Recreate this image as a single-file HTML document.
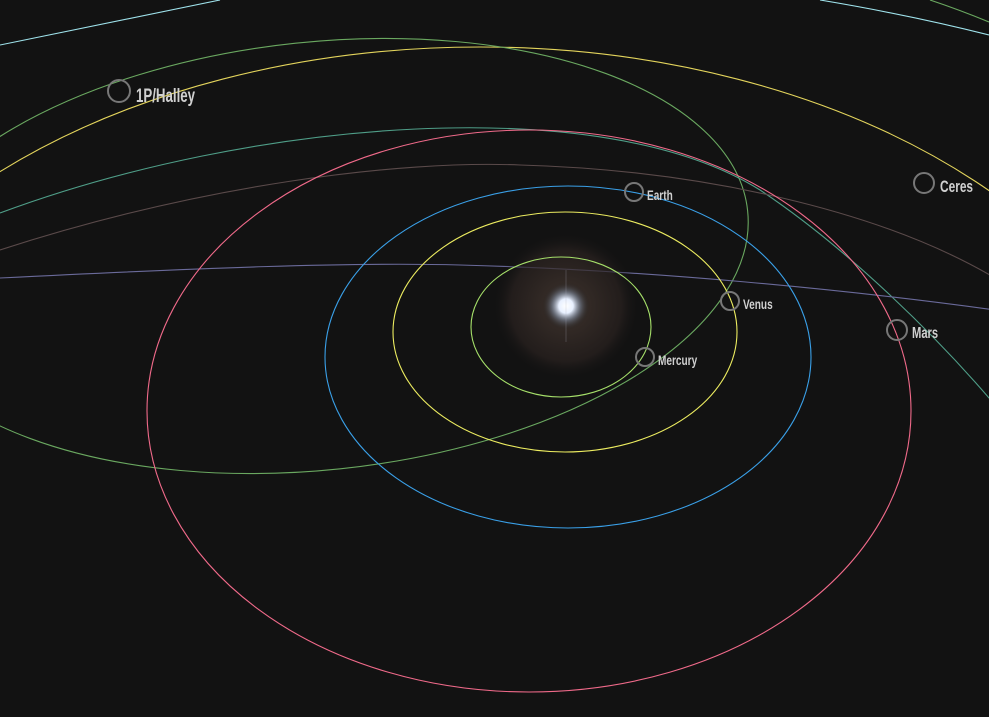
<!DOCTYPE html>
<html><head><meta charset="utf-8"><style>
html,body{margin:0;padding:0;background:#121212;overflow:hidden;width:989px;height:717px}
svg{display:block}
text{font-family:"Liberation Sans",sans-serif;fill:#d0d0d0;font-weight:bold}
</style></head><body>
<svg width="989" height="717" viewBox="0 0 989 717">
<defs>
<radialGradient id="glow"><stop offset="0" stop-color="#4a3c34" stop-opacity="0.8"/><stop offset="0.75" stop-color="#2a2220" stop-opacity="0.7"/><stop offset="1" stop-color="#121212" stop-opacity="0"/></radialGradient>
<radialGradient id="core"><stop offset="0" stop-color="#ffffff"/><stop offset="0.3" stop-color="#e8f0ff"/><stop offset="0.6" stop-color="#8898b0" stop-opacity="0.5"/><stop offset="1" stop-color="#121212" stop-opacity="0"/></radialGradient>
</defs>
<rect width="989" height="717" fill="#121212"/>
<g fill="none" stroke-width="1.1">
<path d="M0,45 L220,0" stroke="#9fe3ec"/>
<path d="M820,0 Q910,15 989,35" stroke="#9fe3ec"/>
<path d="M930,0 Q960,10 989,22" stroke="#6aa860"/>
<ellipse cx="480" cy="505" rx="700" ry="458" stroke="#e3d45c"/>
<ellipse cx="318" cy="256" rx="432" ry="214" transform="rotate(-6 318 256)" stroke="#6aa860"/>
<path d="M0,213 C250,120 600,90 760,190 C850,250 940,340 995,405" stroke="#4f9e88"/>
<path d="M0,250 C200,185 400,160 520,165 C700,170 880,210 995,278" stroke="#5a4a4a"/>
<path d="M0,278 C200,268 350,262 460,265 C650,270 850,290 995,310" stroke="#6a6a9a"/>
</g>
<circle cx="566" cy="306" r="74" fill="url(#glow)"/>
<g fill="none" stroke-width="1.1">
<ellipse cx="561" cy="327" rx="90" ry="70" stroke="#a6e06a"/>
<ellipse cx="565" cy="332" rx="172" ry="120" stroke="#ecec60"/>
<ellipse cx="568" cy="357" rx="243" ry="171" stroke="#3aa0e8"/>
<ellipse cx="529" cy="411" rx="382" ry="281" stroke="#f06a8a"/>
</g>
<circle cx="566" cy="306" r="24" fill="url(#core)"/>
<line x1="566" y1="270" x2="566" y2="342" stroke="#aab" stroke-opacity="0.25"/>
<g fill="none" stroke="#777" stroke-width="2">
<circle cx="119" cy="91" r="11"/>
<circle cx="924" cy="183" r="10"/>
<circle cx="634" cy="192" r="9"/>
<circle cx="730" cy="301" r="9"/>
<circle cx="645" cy="357" r="9"/>
<circle cx="897" cy="330" r="10"/>
</g>
<text x="136" y="102" font-size="19" transform="translate(136 0) scale(0.7 1) translate(-136 0)">1P/Halley</text>
<text x="940" y="192" font-size="17" transform="translate(940 0) scale(0.7 1) translate(-940 0)">Ceres</text>
<text x="647" y="200" font-size="14" transform="translate(647 0) scale(0.72 1) translate(-647 0)">Earth</text>
<text x="743" y="309" font-size="14" transform="translate(743 0) scale(0.72 1) translate(-743 0)">Venus</text>
<text x="658" y="365" font-size="14" transform="translate(658 0) scale(0.72 1) translate(-658 0)">Mercury</text>
<text x="912" y="338" font-size="16" transform="translate(912 0) scale(0.7 1) translate(-912 0)">Mars</text>
</svg>
</body></html>
